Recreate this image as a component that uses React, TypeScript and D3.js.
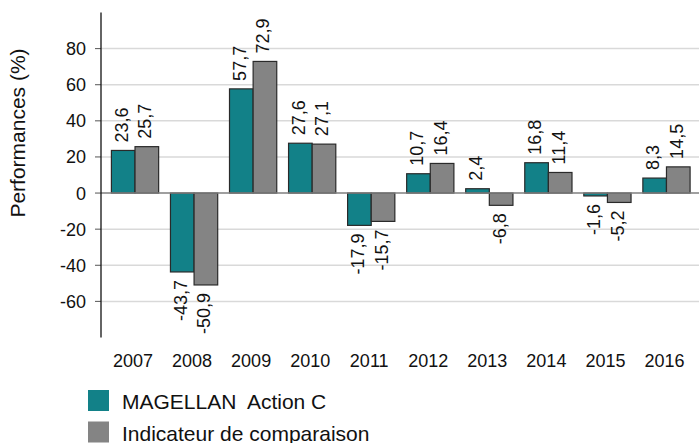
import { useEffect, useRef } from "react";
import * as d3 from "d3";

const years = ["2007", "2008", "2009", "2010", "2011", "2012", "2013", "2014", "2015", "2016"];
const magellan = [23.6, -43.7, 57.7, 27.6, -17.9, 10.7, 2.4, 16.8, -1.6, 8.3];
const indicateur = [25.7, -50.9, 72.9, 27.1, -15.7, 16.4, -6.8, 11.4, -5.2, 14.5];
const yTicks = [-60, -40, -20, 0, 20, 40, 60, 80];
const seriesNames = ["MAGELLAN  Action C", "Indicateur de comparaison"];
const seriesColors = ["#128188", "#848484"];

const App = () => {
  const ref = useRef<SVGSVGElement>(null);

  useEffect(() => {
    if (!ref.current) return;
    const svg = d3.select(ref.current);
    svg.selectAll("*").remove();

    const width = 699;
    const height = 443;
    const font = "'Liberation Sans', Arial, sans-serif";
    svg.attr("width", width).attr("height", height).style("font-family", font);

    const axisX = 101;
    const x = d3.scaleBand<string>().domain(years).range([105.5, 696]).padding(0);
    const y = d3.scaleLinear().domain([-80, 100]).range([337.5, 12.5]);
    const step = x.bandwidth();
    const barW = step * 0.4;

    // gridlines
    svg
      .append("g")
      .selectAll("line")
      .data(yTicks.filter((t) => t !== 0))
      .enter()
      .append("line")
      .attr("x1", axisX)
      .attr("x2", width)
      .attr("y1", (d) => y(d))
      .attr("y2", (d) => y(d))
      .attr("stroke", "#d9d9d9")
      .attr("stroke-width", 1.5);

    // tick marks and labels
    const ticks = svg.append("g");
    ticks
      .selectAll("line")
      .data(yTicks)
      .enter()
      .append("line")
      .attr("x1", axisX - 6)
      .attr("x2", axisX)
      .attr("y1", (d) => y(d))
      .attr("y2", (d) => y(d))
      .attr("stroke", "#555")
      .attr("stroke-width", 1);
    ticks
      .selectAll("text")
      .data(yTicks)
      .enter()
      .append("text")
      .attr("x", 86)
      .attr("y", (d) => y(d))
      .attr("dy", "0.36em")
      .attr("text-anchor", "end")
      .attr("font-size", 18)
      .attr("fill", "#111")
      .text((d) => d);

    // bars
    const series = [magellan, indicateur];
    series.forEach((vals, s) => {
      svg
        .append("g")
        .selectAll("rect")
        .data(vals)
        .enter()
        .append("rect")
        .attr("x", (_d, i) => (x(years[i]) as number) + step / 2 - barW + s * barW)
        .attr("y", (d) => y(Math.max(0, d)))
        .attr("width", barW)
        .attr("height", (d) => Math.abs(y(d) - y(0)))
        .attr("fill", seriesColors[s])
        .attr("stroke", "#2a2a2a")
        .attr("stroke-width", 1.2);
    });

    // zero line
    svg
      .append("line")
      .attr("x1", axisX)
      .attr("x2", width)
      .attr("y1", y(0))
      .attr("y2", y(0))
      .attr("stroke", "#7f7f7f")
      .attr("stroke-width", 1.5);

    // y axis line
    svg
      .append("line")
      .attr("x1", axisX)
      .attr("x2", axisX)
      .attr("y1", y(100))
      .attr("y2", y(-80))
      .attr("stroke", "#111")
      .attr("stroke-width", 1.3);

    // value labels
    series.forEach((vals, s) => {
      svg
        .append("g")
        .selectAll("text")
        .data(vals)
        .enter()
        .append("text")
        .attr("transform", (d, i) => {
          const cx = (x(years[i]) as number) + step / 2 - barW + s * barW + barW / 2 - 2;
          const cy = d >= 0 ? y(d) - 8 : y(d) + 8;
          return `translate(${cx},${cy}) rotate(-90)`;
        })
        .attr("dy", "0.36em")
        .attr("text-anchor", (d) => (d >= 0 ? "start" : "end"))
        .attr("font-size", 18)
        .attr("fill", "#111")
        .text((d) => String(d).replace(".", ","));
    });

    // year labels
    svg
      .append("g")
      .selectAll("text")
      .data(years)
      .enter()
      .append("text")
      .attr("x", (d) => (x(d) as number) + step / 2 - 2)
      .attr("y", 367)
      .attr("text-anchor", "middle")
      .attr("font-size", 18)
      .attr("fill", "#111")
      .text((d) => d);

    // y title
    svg
      .append("text")
      .attr("transform", "translate(18,133) rotate(-90)")
      .attr("dy", "0.35em")
      .attr("text-anchor", "middle")
      .attr("font-size", 21)
      .attr("fill", "#111")
      .text("Performances (%)");

    // legend
    const legend = svg
      .append("g")
      .selectAll("g")
      .data(seriesNames)
      .enter()
      .append("g")
      .attr("transform", (_d, i) => `translate(0, ${i * 31.5})`);
    legend
      .append("rect")
      .attr("x", 88)
      .attr("y", 390)
      .attr("width", 21)
      .attr("height", 21)
      .attr("fill", (_d, i) => seriesColors[i]);
    legend
      .append("text")
      .attr("x", 122)
      .attr("y", 409)
      .attr("font-size", 21)
      .attr("fill", "#111")
      .style("white-space", "pre")
      .text((d) => d);
  }, []);

  return <svg ref={ref} style={{ position: "absolute", left: 0, top: 0 }}></svg>;
};

export default App;
